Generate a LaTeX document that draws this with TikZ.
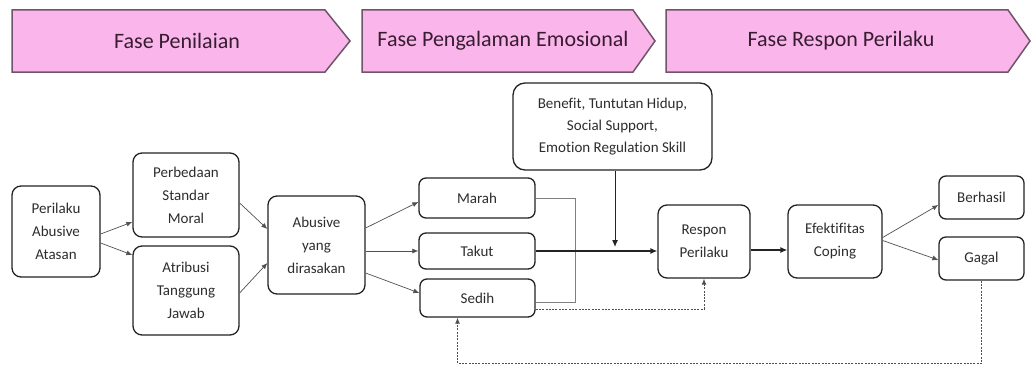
\documentclass[tikz,border=0pt]{standalone}
\usepackage{fontspec}
\setmainfont{Carlito}[Ligatures=NoCommon]
\usetikzlibrary{arrows.meta,calc}
\definecolor{bannerfill}{RGB}{250,182,234}
\definecolor{bannerdraw}{RGB}{112,84,106}
\definecolor{bannertext}{RGB}{55,28,50}
\definecolor{boxdraw}{RGB}{35,35,35}
\definecolor{boxtext}{RGB}{45,45,45}
\definecolor{linegray}{RGB}{80,80,80}
\tikzset{
  banner/.style={draw=bannerdraw, fill=bannerfill, line width=1.5pt, line join=miter},
  bannerlabel/.style={text=bannertext, font=\fontsize{22}{26}\selectfont, inner sep=0pt},
  box/.style={draw=boxdraw, line width=1.3pt, rounded corners=9pt, fill=white, align=center,
    text=boxtext, font=\fontsize{15}{23}\selectfont, inner sep=0pt},
  thinarrow/.style={draw=linegray, line width=0.7pt, -{Latex[length=6pt,width=5pt]}},
  thickarrow/.style={draw=boxdraw, line width=1.3pt, -{Latex[length=7pt,width=6pt]}},
  bracketline/.style={draw=gray, line width=0.8pt},
  dashedarrow/.style={draw=linegray, line width=0.9pt, dash pattern=on 2pt off 1.3pt, -{Latex[length=6pt,width=5pt]}}
}
\begin{document}
\begin{tikzpicture}[x=1pt,y=-1pt]
\useasboundingbox (0,0) rectangle (1032,369);
% banners
\draw[banner] (12,10) -- (325,10) -- (350,41) -- (325,72) -- (12,72) -- cycle;
\draw[banner] (362,10) -- (633,10) -- (655,41) -- (633,72) -- (362,72) -- cycle;
\draw[banner] (666,10) -- (1008,10) -- (1030,41) -- (1008,72) -- (666,72) -- cycle;
\node[bannerlabel] (b1) at (177,41) {Fase Penilaian};
\node[bannerlabel] (b2) at (503,41) {Fase Pengalaman Emosional};
\node[bannerlabel] (b3) at (841,41) {Fase Respon Perilaku};
% boxes
\node[box, minimum width=88pt, minimum height=91pt] (perilaku) at (56,231.5) {Perilaku\\Abusive\\Atasan};
\node[box, minimum width=106pt, minimum height=84pt] (perbedaan) at (186,195) {Perbedaan\\Standar\\Moral};
\node[box, minimum width=106pt, minimum height=89pt] (atribusi) at (186,290.5) {Atribusi\\Tanggung\\Jawab};
\node[box, minimum width=97pt, minimum height=98pt] (abusive) at (316.5,245) {Abusive\\yang\\dirasakan};
\node[box, rounded corners=7pt, minimum width=116pt, minimum height=40pt] (marah) at (477,198) {Marah};
\node[box, rounded corners=7pt, minimum width=116pt, minimum height=36pt] (takut) at (477,251) {Takut};
\node[box, rounded corners=7pt, minimum width=115pt, minimum height=38pt] (sedih) at (477.5,298) {Sedih};
\node[box, rounded corners=12pt, minimum width=199pt, minimum height=87pt, font=\fontsize{15}{22}\selectfont] (benefit) at (612.5,126.5) {Benefit, Tuntutan Hidup,\\Social Support,\\Emotion Regulation Skill};
\node[box, minimum width=92pt, minimum height=73pt] (respon) at (704,241.5) {Respon\\Perilaku};
\node[box, minimum width=94pt, minimum height=73pt] (efektif) at (835,241.5) {Efektifitas\\Coping};
\node[box, rounded corners=7pt, minimum width=85pt, minimum height=43pt] (berhasil) at (981.5,197.5) {Berhasil};
\node[box, rounded corners=7pt, minimum width=85pt, minimum height=43pt] (gagal) at (981.5,258.5) {Gagal};
% connectors
\draw[thinarrow] ($(perilaku.east)+(0,2.5)$) -- ($(perbedaan.west)+(0,27)$);
\draw[thinarrow] ($(perilaku.east)+(0,11.5)$) -- ($(atribusi.west)+(0,-35.5)$);
\draw[thinarrow] ($(perbedaan.east)+(0,8)$) -- ($(abusive.west)+(0,-16)$);
\draw[thinarrow] ($(atribusi.east)+(0,2.5)$) -- ($(abusive.west)+(0,18)$);
\draw[thinarrow] ($(abusive.east)+(0,-17)$) -- ($(marah.west)+(0,4)$);
\draw[thinarrow] (takut.west -| abusive.east) -- (takut.west);
\draw[thinarrow] ($(abusive.east)+(0,28)$) -- ($(sedih.west)+(0,-5)$);
\draw[bracketline] (marah.east) -- ++(40,0) |- ($(sedih.east)+(0,4)$);
\draw[thickarrow] (takut.east) -- (takut.east -| respon.west);
\coordinate (bfoot) at ($(benefit.south)+(2.5,0)$);
\draw[thickarrow, line width=1pt, shorten >=4pt] (bfoot) -- (bfoot |- takut.east);
\draw[dashedarrow] ($(sedih.east)+(0,11)$) -| (respon.south);
\draw[thickarrow] ($(respon.east)+(0,8.5)$) -- ($(efektif.west)+(0,8.5)$);
\draw[thinarrow] ($(efektif.east)+(0,-4)$) -- ($(berhasil.west)+(0,7.5)$);
\draw[thinarrow] ($(efektif.east)+(0,-1)$) -- ($(gagal.west)+(0,1.5)$);
\coordinate (sedihin) at ($(sedih.south)+(-20,0)$);
\coordinate (loopcorner) at ($(sedihin)+(0,46)$);
\draw[dashedarrow] (gagal.south) |- (loopcorner) -- (sedihin);
\end{tikzpicture}
\end{document}
